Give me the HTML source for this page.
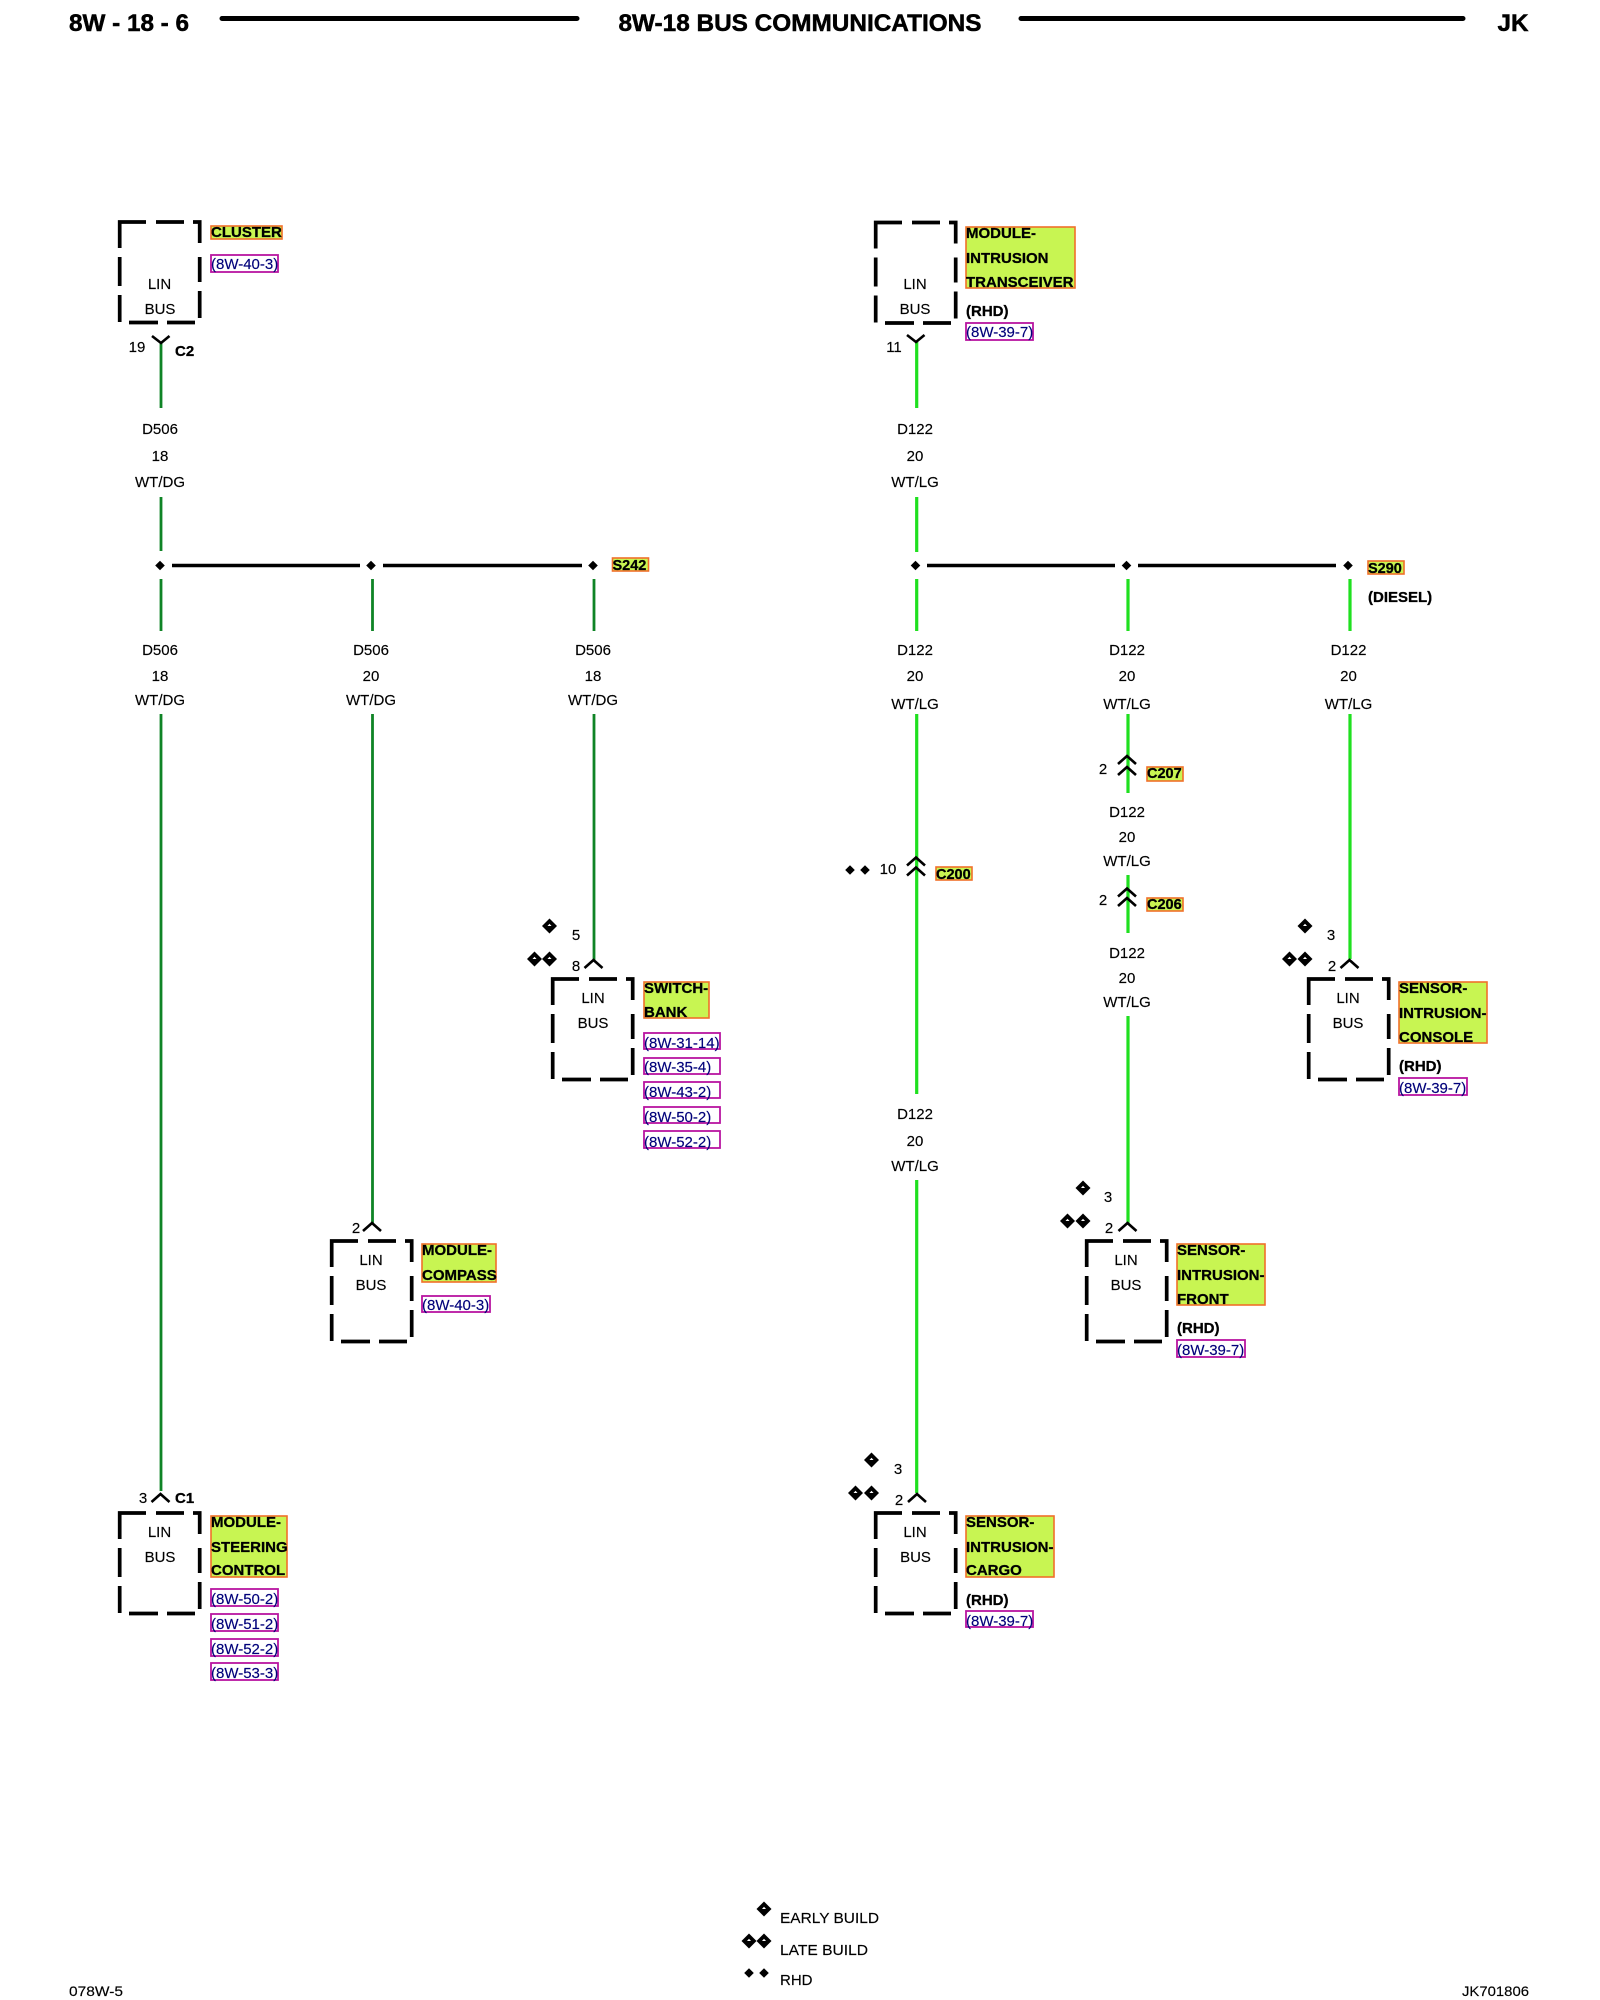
<!DOCTYPE html>
<html><head><meta charset="utf-8"><style>
html,body{margin:0;padding:0;background:#fff}
svg{display:block;filter:blur(.35px)}
text{font-family:"Liberation Sans",sans-serif;font-size:15px;fill:#000;stroke:#000;stroke-width:.15px}
.c{text-anchor:middle}
.b{font-weight:bold;fill:#000;stroke-width:.3px}
.r{fill:#00007a;stroke:#00007a}
.h{fill:#c8f552;stroke:#f0702a;stroke-width:1.6}
.p{fill:#fff;stroke:#b814a0;stroke-width:1.8}
.dg{stroke:#0f8426;stroke-width:2.8;fill:none}
.lg{stroke:#1fe01f;stroke-width:3.2;fill:none}
.a{stroke:#000;stroke-width:2.6;fill:none}
.k{stroke:#000;stroke-width:3.7;fill:none}
.t{font-weight:bold;font-size:24px;fill:#000;stroke-width:.5px}
</style></head><body>
<svg width="1600" height="2000" viewBox="0 0 1600 2000" xmlns="http://www.w3.org/2000/svg">
<defs>
<g id="box"><path class="k" d="M1.7 28V2H28M38 2H66M75 2H81.7V23M1.7 37V66M1.700 75V102M81.7 37V62M81.7 71V98M11 102.500H40M49 102.500H77"/></g>
<g id="dia"><path d="M0-7.500L7.500 0L0 7.500L-7.500 0Z" fill="#000"/><path d="M0-2.200L2 0H-2Z" fill="#fff"/></g>
<path id="sd" d="M0-4.800L4.800 0L0 4.800L-4.800 0Z" fill="#000"/>
<path id="up" class="a" d="M-9 8L0 0L9 8"/>
</defs>

<!-- header -->
<text class="t" x="69" y="31" textLength="120" lengthAdjust="spacingAndGlyphs">8W - 18 - 6</text>
<path d="M222 18.5H577M1021 18.5H1463" stroke="#000" stroke-width="5" stroke-linecap="round"/>
<text class="t" x="618.5" y="31" textLength="363" lengthAdjust="spacingAndGlyphs">8W-18 BUS COMMUNICATIONS</text>
<text class="t" x="1497.5" y="31" textLength="31" lengthAdjust="spacingAndGlyphs">JK</text>

<!-- bus lines -->
<path d="M172 565.5H360M383 565.5H582M927 565.5H1115M1138 565.5H1336" stroke="#000" stroke-width="3.6"/>
<use href="#sd" x="160" y="565.5"/><use href="#sd" x="371" y="565.5"/><use href="#sd" x="593" y="565.5"/>
<use href="#sd" x="915.5" y="565.5"/><use href="#sd" x="1126.5" y="565.5"/><use href="#sd" x="1348" y="565.5"/>

<!-- wires -->
<path class="dg" d="M161 343V408M161 497V551M161 579V631M161 714V1491M372.5 579V631M372.5 714V1224M594 579V631M594 714V960"/>
<path class="lg" d="M916.7 342V408M916.7 497V552M916.7 579V631M916.7 714V1094M916.7 1180V1493M1128 579V631M1128 714V793M1128 875V933M1128 1016V1223M1350 579V631M1350 714V959"/>

<!-- connector arrows -->
<path class="a" d="M152 336L161 343L169.500 336M907 335L916 342L924.500 335"/>
<use href="#up" x="160.500" y="1494"/><use href="#up" x="593.500" y="960"/><use href="#up" x="372" y="1223"/>
<use href="#up" x="1127.500" y="1223"/><use href="#up" x="1349.500" y="960"/><use href="#up" x="917" y="1494"/>
<use href="#up" x="916" y="857.500"/><use href="#up" x="916" y="867.500"/>
<use href="#up" x="1127" y="756"/><use href="#up" x="1127" y="767"/>
<use href="#up" x="1127" y="888.500"/><use href="#up" x="1127" y="898"/>

<!-- boxes -->
<use href="#box" x="118" y="220"/><use href="#box" x="874" y="220.500"/>
<use href="#box" x="551" y="977"/><use href="#box" x="1307" y="977"/>
<use href="#box" x="330" y="1239"/><use href="#box" x="1085" y="1239"/>
<use href="#box" x="118" y="1511"/><use href="#box" x="874" y="1511"/>

<g class="c">
<text class="c" x="159.500" y="289">LIN</text><text class="c" x="160" y="314">BUS</text>
<text class="c" x="915" y="289">LIN</text><text class="c" x="915" y="314">BUS</text>
<text class="c" x="593" y="1003">LIN</text><text class="c" x="593" y="1028">BUS</text>
<text class="c" x="1348" y="1003">LIN</text><text class="c" x="1348" y="1028">BUS</text>
<text class="c" x="371" y="1265">LIN</text><text class="c" x="371" y="1290">BUS</text>
<text class="c" x="1126" y="1265">LIN</text><text class="c" x="1126" y="1290">BUS</text>
<text class="c" x="159.500" y="1537">LIN</text><text class="c" x="160" y="1562">BUS</text>
<text class="c" x="915" y="1537">LIN</text><text class="c" x="915.500" y="1562">BUS</text>
</g>

<!-- wire labels -->
<text class="c" x="160" y="434">D506</text><text class="c" x="160" y="461">18</text><text class="c" x="160" y="487">WT/DG</text>
<text class="c" x="915" y="434">D122</text><text class="c" x="915" y="461">20</text><text class="c" x="915" y="487">WT/LG</text>
<text class="c" x="160" y="655">D506</text><text class="c" x="160" y="681">18</text><text class="c" x="160" y="705">WT/DG</text>
<text class="c" x="371" y="655">D506</text><text class="c" x="371" y="681">20</text><text class="c" x="371" y="705">WT/DG</text>
<text class="c" x="593" y="655">D506</text><text class="c" x="593" y="681">18</text><text class="c" x="593" y="705">WT/DG</text>
<text class="c" x="915" y="655">D122</text><text class="c" x="915" y="681">20</text><text class="c" x="915" y="709">WT/LG</text>
<text class="c" x="1127" y="655">D122</text><text class="c" x="1127" y="681">20</text><text class="c" x="1127" y="709">WT/LG</text>
<text class="c" x="1348.500" y="655">D122</text><text class="c" x="1348.500" y="681">20</text><text class="c" x="1348.500" y="709">WT/LG</text>
<text class="c" x="1127" y="817">D122</text><text class="c" x="1127" y="842">20</text><text class="c" x="1127" y="866">WT/LG</text>
<text class="c" x="1127" y="958">D122</text><text class="c" x="1127" y="983">20</text><text class="c" x="1127" y="1007">WT/LG</text>
<text class="c" x="915" y="1119">D122</text><text class="c" x="915" y="1146">20</text><text class="c" x="915" y="1171">WT/LG</text>

<!-- pin numbers -->
<text class="c" x="137" y="352">19</text>
<text class="c" x="894" y="352">11</text>
<text class="c" x="576" y="940">5</text><text class="c" x="576" y="971">8</text>
<text class="c" x="1331" y="940">3</text><text class="c" x="1332" y="971">2</text>
<text class="c" x="1108" y="1202">3</text><text class="c" x="1109" y="1233">2</text>
<text class="c" x="356" y="1233">2</text>
<text class="c" x="898" y="1474">3</text><text class="c" x="899" y="1505">2</text>
<text class="c" x="143" y="1503">3</text>
<text class="c" x="888" y="874">10</text>
<text class="c" x="1103" y="774">2</text><text class="c" x="1103" y="905">2</text>

<text class="b" x="175" y="356">C2</text>
<text class="b" x="175" y="1503">C1</text>

<!-- diamonds -->
<use href="#dia" x="549.500" y="926"/><use href="#dia" x="534.500" y="959"/><use href="#dia" x="549.500" y="959"/>
<use href="#dia" x="1305" y="926"/><use href="#dia" x="1289.500" y="959"/><use href="#dia" x="1305" y="959"/>
<use href="#dia" x="1083" y="1188"/><use href="#dia" x="1067.500" y="1221"/><use href="#dia" x="1083" y="1221"/>
<use href="#dia" x="871.500" y="1460"/><use href="#dia" x="855.500" y="1493"/><use href="#dia" x="871.500" y="1493"/>
<use href="#sd" x="850" y="870"/><use href="#sd" x="865" y="870"/>

<!-- yellow-green labels -->
<rect class="h" x="211" y="226" width="71" height="13"/>
<text class="b" x="211" y="237">CLUSTER</text>
<rect class="h" x="966" y="227" width="109" height="61"/>
<text class="b" x="966" y="238">MODULE-</text><text class="b" x="966" y="263">INTRUSION</text><text class="b" x="966" y="287">TRANSCEIVER</text>
<rect class="h" x="644" y="982" width="65" height="36"/>
<text class="b" x="644" y="993">SWITCH-</text><text class="b" x="644" y="1017">BANK</text>
<rect class="h" x="1399" y="982" width="88" height="61"/>
<text class="b" x="1399" y="993">SENSOR-</text><text class="b" x="1399" y="1018">INTRUSION-</text><text class="b" x="1399" y="1042">CONSOLE</text>
<rect class="h" x="422" y="1244" width="74" height="38"/>
<text class="b" x="422" y="1255">MODULE-</text><text class="b" x="422" y="1280">COMPASS</text>
<rect class="h" x="1177" y="1244" width="88" height="61"/>
<text class="b" x="1177" y="1255">SENSOR-</text><text class="b" x="1177" y="1280">INTRUSION-</text><text class="b" x="1177" y="1304">FRONT</text>
<rect class="h" x="211" y="1516" width="76" height="61"/>
<text class="b" x="211" y="1527">MODULE-</text><text class="b" x="211" y="1552">STEERING</text><text class="b" x="211" y="1575">CONTROL</text>
<rect class="h" x="966" y="1516" width="88" height="61"/>
<text class="b" x="966" y="1527">SENSOR-</text><text class="b" x="966" y="1552">INTRUSION-</text><text class="b" x="966" y="1575">CARGO</text>

<rect class="h" x="1147" y="767" width="36" height="14"/><text class="b" x="1147" y="778" style="font-size:14.500px">C207</text>
<rect class="h" x="1147" y="898" width="36" height="13"/><text class="b" x="1147" y="909" style="font-size:14.500px">C206</text>
<rect class="h" x="936" y="867" width="36" height="13"/><text class="b" x="936" y="879" style="font-size:14.500px">C200</text>
<rect class="h" x="612.500" y="558" width="36" height="13"/><text class="b" x="612.500" y="570" style="font-size:14.500px">S242</text>
<rect class="h" x="1368" y="561" width="36" height="13"/><text class="b" x="1368" y="573" style="font-size:14.500px">S290</text>

<text class="b" x="1368" y="602">(DIESEL)</text>
<text class="b" x="966" y="316">(RHD)</text>
<text class="b" x="1399" y="1071">(RHD)</text>
<text class="b" x="1177" y="1333">(RHD)</text>
<text class="b" x="966" y="1605">(RHD)</text>

<!-- pink reference boxes -->
<rect class="p" x="211" y="255" width="67" height="17"/><text class="r" x="211" y="269">(8W-40-3)</text>
<rect class="p" x="966" y="323" width="67" height="17"/><text class="r" x="966" y="337">(8W-39-7)</text>
<rect class="p" x="644" y="1033" width="76" height="16"/><text class="r" x="644" y="1048">(8W-31-14)</text>
<rect class="p" x="644" y="1058" width="76" height="16"/><text class="r" x="644" y="1072">(8W-35-4)</text>
<rect class="p" x="644" y="1082" width="76" height="16"/><text class="r" x="644" y="1097">(8W-43-2)</text>
<rect class="p" x="644" y="1107" width="76" height="16"/><text class="r" x="644" y="1122">(8W-50-2)</text>
<rect class="p" x="644" y="1131" width="76" height="17"/><text class="r" x="644" y="1147">(8W-52-2)</text>
<rect class="p" x="1399" y="1078" width="68" height="17"/><text class="r" x="1399" y="1093">(8W-39-7)</text>
<rect class="p" x="422" y="1296" width="68" height="16"/><text class="r" x="422" y="1310">(8W-40-3)</text>
<rect class="p" x="1177" y="1340" width="68" height="17"/><text class="r" x="1177" y="1355">(8W-39-7)</text>
<rect class="p" x="211" y="1589" width="67" height="17"/><text class="r" x="211" y="1604">(8W-50-2)</text>
<rect class="p" x="211" y="1614" width="67" height="17"/><text class="r" x="211" y="1629">(8W-51-2)</text>
<rect class="p" x="211" y="1639" width="67" height="17"/><text class="r" x="211" y="1654">(8W-52-2)</text>
<rect class="p" x="211" y="1663" width="67" height="17"/><text class="r" x="211" y="1678">(8W-53-3)</text>
<rect class="p" x="966" y="1611" width="67" height="16"/><text class="r" x="966" y="1626">(8W-39-7)</text>

<!-- legend -->
<use href="#dia" x="764" y="1909"/><use href="#dia" x="749" y="1941"/><use href="#dia" x="764" y="1941"/>
<use href="#sd" x="749" y="1973"/><use href="#sd" x="764" y="1973"/>
<text x="780" y="1923" textLength="99" lengthAdjust="spacingAndGlyphs">EARLY BUILD</text>
<text x="780" y="1955" textLength="88" lengthAdjust="spacingAndGlyphs">LATE BUILD</text>
<text x="780" y="1985">RHD</text>

<!-- footer -->
<text x="69" y="1996" style="font-size:14px" textLength="54" lengthAdjust="spacingAndGlyphs">078W-5</text>
<text x="1462" y="1996" style="font-size:14px" textLength="67" lengthAdjust="spacingAndGlyphs">JK701806</text>
</svg>
</body></html>
